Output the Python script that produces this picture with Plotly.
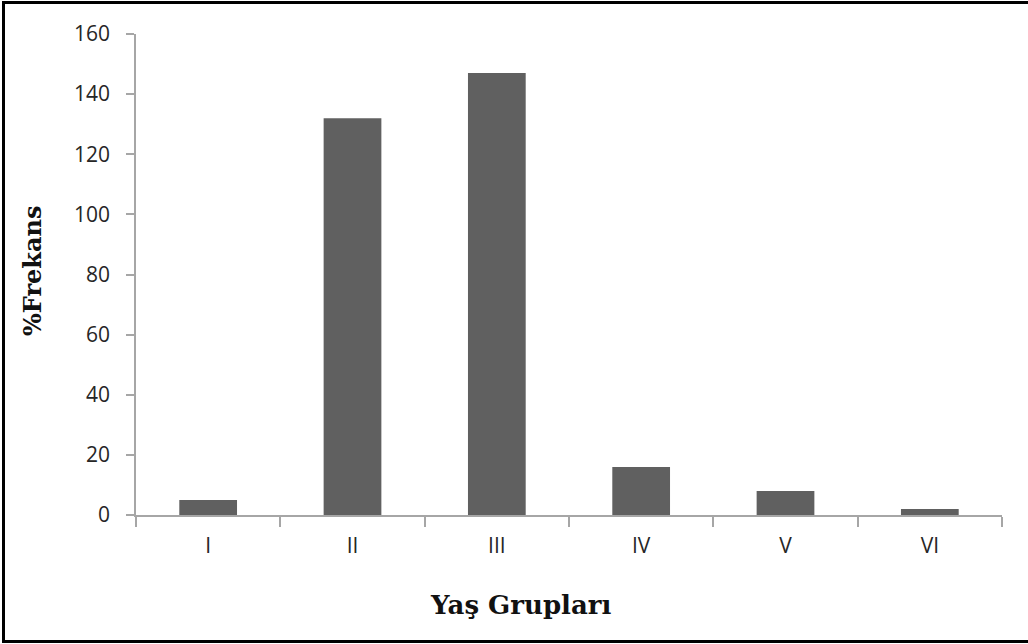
import plotly.graph_objects as go

groups = ['I', 'II', 'III', 'IV', 'V', 'VI']
freq = [5, 132, 147, 16, 8, 2]
y_ticks = [0, 20, 40, 60, 80, 100, 120, 140, 160]

W, H = 1028, 644
L, R, T, B = 136, 26, 34, 129
pw, ph = W - L - R, H - T - B


def px_x(p):
    return (p - L) / pw


def px_y(p):
    return (H - B - p) / ph


fig = go.Figure(go.Bar(x=groups, y=freq, marker=dict(color='#606060', line=dict(width=0)),
                       width=0.4))

fig.update_layout(
    width=W, height=H,
    margin=dict(l=L, r=R, t=T, b=B),
    plot_bgcolor='white', paper_bgcolor='white',
    showlegend=False,
    xaxis=dict(
        showline=True, linecolor='#a6a6a6', linewidth=1.5,
        ticks='outside', ticklen=10, tickcolor='#a6a6a6', tickwidth=1.5,
        tickson='boundaries', ticklabelstandoff=11,
        tickfont=dict(family='Open Sans', size=21, color='#262626'),
    ),
    yaxis=dict(
        range=[0, 160], tickvals=y_ticks, showgrid=False, zeroline=False,
        showline=True, linecolor='#a6a6a6', linewidth=1.5,
        ticks='outside', ticklen=8, tickcolor='#a6a6a6', tickwidth=1.5,
        ticklabelstandoff=12,
        tickfont=dict(family='Open Sans', size=21, color='#262626'),
    ),
)

# axis titles
fig.add_annotation(text='<b>Yaş Grupları</b>', xref='paper', yref='paper',
                   x=px_x(520), y=px_y(605), xanchor='center', yanchor='middle',
                   showarrow=False,
                   font=dict(family='DejaVu Serif', size=26, color='#111'))
fig.add_annotation(text='<b>%Frekans</b>', xref='paper', yref='paper',
                   x=px_x(32), y=px_y(271), xanchor='center', yanchor='middle',
                   showarrow=False, textangle=-90,
                   font=dict(family='DejaVu Serif', size=24, color='#111'))

# image frame
frame = dict(type='line', xref='paper', yref='paper', line=dict(color='black', width=3))
fig.add_shape(frame, x0=px_x(3.5), x1=px_x(3.5), y0=px_y(1), y1=px_y(643))
fig.add_shape(frame, x0=px_x(2), x1=px_x(1028), y0=px_y(2.5), y1=px_y(2.5))
fig.add_shape(frame, x0=px_x(2), x1=px_x(1028), y0=px_y(641.5), y1=px_y(641.5))

fig.write_html("out.html", config=dict(displayModeBar=False),
               post_script="document.body.style.margin='0';")
